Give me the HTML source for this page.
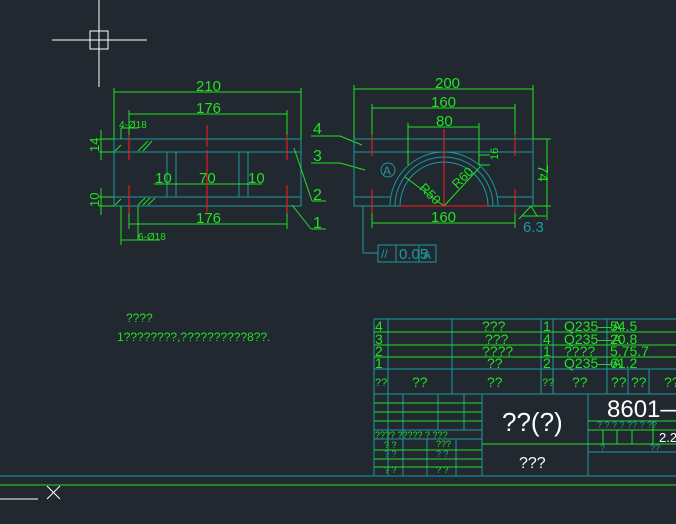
<!DOCTYPE html>
<html><head><meta charset="utf-8"><style>
html,body{margin:0;padding:0;background:#212830;}
svg{display:block}
text{font-family:"Liberation Sans",sans-serif;}
</style></head><body>
<svg width="676" height="524" viewBox="0 0 676 524" xmlns="http://www.w3.org/2000/svg">
<rect width="676" height="524" fill="#212830"/>
<g stroke="#fff" stroke-width="1" fill="none">
<line x1="52" y1="40" x2="147" y2="40"/><line x1="99" y1="0" x2="99" y2="87"/>
<rect x="90" y="31" width="18" height="18"/>
<line x1="0" y1="499" x2="38" y2="499"/>
<line x1="47" y1="486" x2="60" y2="499"/><line x1="60" y1="486" x2="47" y2="499"/>
</g>
<line x1="0" y1="476" x2="676" y2="476" stroke="#1a9ba0" stroke-width="1"/>
<line x1="0" y1="485" x2="676" y2="485" stroke="#22e022" stroke-width="1"/>

<g stroke="#1a9ba0" fill="none" stroke-width="1">
<rect x="114" y="139" width="187" height="67"/>
<line x1="114" y1="152" x2="301" y2="152"/>
<line x1="114" y1="197" x2="301" y2="197"/>
<line x1="167" y1="152" x2="167" y2="197"/><line x1="176" y1="152" x2="176" y2="197"/>
<line x1="239" y1="152" x2="239" y2="197"/><line x1="248" y1="152" x2="248" y2="197"/>
</g>
<g stroke="#22e022" fill="none" stroke-width="1">
<line x1="114" y1="92" x2="301" y2="92"/><line x1="114" y1="88" x2="114" y2="139"/><line x1="301" y1="88" x2="301" y2="139"/>
<line x1="129" y1="114" x2="287" y2="114"/><line x1="129" y1="110" x2="129" y2="139"/><line x1="287" y1="110" x2="287" y2="139"/>
<line x1="129" y1="224" x2="287" y2="224"/><line x1="129" y1="206" x2="129" y2="229"/><line x1="287" y1="206" x2="287" y2="229"/>
<line x1="154" y1="184" x2="262" y2="184"/>
<line x1="99" y1="139" x2="114" y2="139"/><line x1="99" y1="152" x2="114" y2="152"/><line x1="101" y1="130" x2="101" y2="160"/>
<line x1="99" y1="197" x2="114" y2="197"/><line x1="99" y1="206" x2="114" y2="206"/><line x1="101" y1="188" x2="101" y2="215"/>
<line x1="121" y1="128" x2="121" y2="139"/><line x1="121" y1="128" x2="138" y2="128"/>
<line x1="121" y1="206" x2="121" y2="245"/><line x1="138" y1="206" x2="138" y2="240"/><line x1="121" y1="240" x2="160" y2="240"/>
<line x1="115" y1="151" x2="121" y2="145"/><line x1="138" y1="151" x2="148" y2="141"/><line x1="143" y1="151" x2="152" y2="141"/>
<line x1="115" y1="205" x2="121" y2="199"/><line x1="138" y1="205" x2="145" y2="198"/><line x1="143" y1="205" x2="150" y2="198"/><line x1="148" y1="205" x2="155" y2="198"/>
<line x1="311" y1="136" x2="340" y2="136"/><line x1="340" y1="136" x2="362" y2="145"/>
<line x1="311" y1="163" x2="340" y2="163"/><line x1="340" y1="163" x2="365" y2="170"/>
<line x1="294" y1="148" x2="312" y2="201"/><line x1="312" y1="201" x2="326" y2="201"/>
<line x1="292" y1="205" x2="311" y2="229"/><line x1="311" y1="229" x2="326" y2="229"/>
</g>
<g stroke="#ff1a1a" stroke-width="1">
<line x1="129" y1="135" x2="129" y2="160"/><line x1="129" y1="185" x2="129" y2="213"/>
<line x1="287" y1="135" x2="287" y2="160"/><line x1="287" y1="185" x2="287" y2="213"/>
<line x1="207" y1="125" x2="207" y2="147"/><line x1="207" y1="150" x2="207" y2="212"/>
</g>
<g fill="#22e022" font-size="15">
<text x="196" y="91">210</text><text x="196" y="113">176</text><text x="196" y="223">176</text>
<text x="155" y="183">10</text><text x="199" y="183">70</text><text x="248" y="183">10</text>
<text x="313" y="134" font-size="16">4</text><text x="313" y="161" font-size="16">3</text>
<text x="313" y="200" font-size="16">2</text><text x="313" y="228" font-size="16">1</text>
<text x="119" y="128" font-size="10">4-Ø18</text><text x="138" y="240" font-size="10">6-Ø18</text>
<text x="99" y="152" font-size="13" transform="rotate(-90 99 152)">14</text>
<text x="99" y="207" font-size="13" transform="rotate(-90 99 207)">10</text>
</g>

<g stroke="#1a9ba0" fill="none" stroke-width="1">
<rect x="354" y="139" width="179" height="67"/>
<line x1="354" y1="152" x2="533" y2="152"/>
<line x1="354" y1="197" x2="390" y2="197"/><line x1="497" y1="197" x2="533" y2="197"/>
<path d="M390 206 A54 54 0 0 1 498 206"/>
<path d="M395 206 A49 49 0 0 1 493 206"/>
<path d="M400 206 A44 44 0 0 1 488 206"/>
<circle cx="388" cy="170" r="7"/>
<line x1="363" y1="206" x2="363" y2="253"/><line x1="363" y1="253" x2="378" y2="253"/>
<rect x="378" y="245" width="58" height="17"/><line x1="396" y1="245" x2="396" y2="262"/><line x1="419" y1="245" x2="419" y2="262"/>
</g>
<g stroke="#22e022" fill="none" stroke-width="1">
<line x1="354" y1="89" x2="533" y2="89"/><line x1="354" y1="85" x2="354" y2="139"/><line x1="533" y1="85" x2="533" y2="139"/>
<line x1="372" y1="108" x2="515" y2="108"/><line x1="372" y1="104" x2="372" y2="139"/><line x1="515" y1="104" x2="515" y2="139"/>
<line x1="408" y1="127" x2="479" y2="127"/><line x1="408" y1="123" x2="408" y2="165"/><line x1="479" y1="123" x2="479" y2="165"/>
<line x1="372" y1="223" x2="515" y2="223"/><line x1="372" y1="206" x2="372" y2="228"/><line x1="515" y1="206" x2="515" y2="228"/>
<line x1="533" y1="139" x2="551" y2="139"/><line x1="533" y1="206" x2="551" y2="206"/><line x1="547" y1="139" x2="547" y2="220"/>
<line x1="444" y1="206" x2="405" y2="177"/><line x1="444" y1="206" x2="480" y2="167"/>
<line x1="479" y1="155" x2="490" y2="155"/><line x1="479" y1="165" x2="490" y2="165"/>
<line x1="519" y1="219" x2="531" y2="206"/><line x1="531" y1="206" x2="537" y2="216"/><line x1="522" y1="216" x2="546" y2="216"/>
</g>
<g stroke="#ff1a1a" stroke-width="1">
<line x1="372" y1="135" x2="372" y2="156"/><line x1="372" y1="189" x2="372" y2="213"/>
<line x1="515" y1="135" x2="515" y2="156"/><line x1="515" y1="189" x2="515" y2="213"/>
<line x1="444" y1="129" x2="444" y2="206"/><line x1="400" y1="206" x2="488" y2="206"/>
</g>
<g fill="#22e022" font-size="15">
<text x="435" y="88">200</text><text x="431" y="107">160</text><text x="436" y="126">80</text><text x="431" y="222">160</text>
<text x="553" y="180" transform="rotate(90 553 165)">74</text>
<text x="423" y="192" font-size="13" transform="rotate(45 425 185)">R50</text>
<text x="451" y="186" font-size="13" transform="rotate(-45 458 180)">R60</text>
<text x="492" y="166" font-size="11" transform="rotate(-90 492 160)">16</text>
</g>
<g fill="#1a9ba0" font-size="15">
<text x="383" y="175" font-size="12">A</text><text x="523" y="232">6.3</text>
<text x="381" y="258" font-size="12">//</text><text x="399" y="259">0.05</text><text x="423" y="259" font-size="12">A</text>
</g>

<g fill="#22e022" font-size="12">
<text x="126" y="322">????</text>
<text x="117" y="341">1????????,??????????8??.</text>
</g>

<g stroke="#1a9ba0" fill="none" stroke-width="1">
<line x1="374" y1="319" x2="676" y2="319"/><line x1="374" y1="369" x2="676" y2="369"/><line x1="374" y1="394" x2="676" y2="394"/>
<line x1="374" y1="319" x2="374" y2="476"/><line x1="388" y1="319" x2="388" y2="476"/>
<line x1="452" y1="319" x2="452" y2="394"/><line x1="541" y1="319" x2="541" y2="394"/><line x1="553" y1="319" x2="553" y2="394"/>
<line x1="607" y1="319" x2="607" y2="394"/><line x1="628" y1="369" x2="628" y2="394"/><line x1="649" y1="369" x2="649" y2="394"/>
<line x1="403" y1="394" x2="403" y2="476"/><line x1="438" y1="394" x2="438" y2="430"/><line x1="464" y1="394" x2="464" y2="430"/>
<line x1="427" y1="439" x2="427" y2="476"/><line x1="456" y1="439" x2="456" y2="476"/>
<line x1="482" y1="394" x2="482" y2="476"/><line x1="588" y1="394" x2="588" y2="476"/>
<line x1="374" y1="430" x2="482" y2="430"/><line x1="374" y1="439" x2="482" y2="439"/>
<line x1="588" y1="452" x2="676" y2="452"/>
</g>
<g stroke="#22e022" fill="none" stroke-width="1">
<line x1="374" y1="332" x2="676" y2="332"/><line x1="374" y1="345" x2="676" y2="345"/><line x1="374" y1="357" x2="676" y2="357"/>
<line x1="374" y1="403" x2="482" y2="403"/><line x1="374" y1="412" x2="482" y2="412"/><line x1="374" y1="421" x2="482" y2="421"/>
<line x1="374" y1="450" x2="482" y2="450"/><line x1="374" y1="459" x2="482" y2="459"/><line x1="374" y1="467" x2="482" y2="467"/>
<line x1="482" y1="444" x2="588" y2="444"/>
<line x1="588" y1="421" x2="676" y2="421"/><line x1="588" y1="430" x2="676" y2="430"/><line x1="588" y1="444" x2="676" y2="444"/>
<line x1="603" y1="430" x2="603" y2="444"/><line x1="617" y1="430" x2="617" y2="444"/><line x1="632" y1="430" x2="632" y2="444"/><line x1="653" y1="421" x2="653" y2="444"/>
</g>
<g fill="#22e022" font-size="14">
<text x="375" y="331">4</text><text x="375" y="344">3</text><text x="375" y="356">2</text><text x="375" y="368">1</text>
<text x="482" y="331">???</text><text x="485" y="344">???</text><text x="482" y="356">????</text><text x="487" y="368">??</text>
<text x="543" y="331">1</text><text x="543" y="344">4</text><text x="543" y="356">1</text><text x="543" y="368">2</text>
<text x="564" y="331">Q235—A</text><text x="610" y="331">54.5</text>
<text x="564" y="344">Q235—A</text><text x="610" y="344">20.8</text>
<text x="564" y="356">????</text><text x="610" y="356">5.75.7</text>
<text x="564" y="368">Q235—A</text><text x="610" y="368">61.2</text>
<text x="375" y="386" font-size="11">??</text><text x="412" y="387">??</text><text x="487" y="387">??</text>
<text x="542" y="386" font-size="11">??</text><text x="572" y="387">??</text><text x="611" y="387">??</text><text x="631" y="387">??</text><text x="664" y="387">??</text>
<text x="375" y="438" font-size="9">???? ????? ? ???</text>
<text x="384" y="448" font-size="9">?  ?</text><text x="436" y="447" font-size="9">???</text>
<text x="384" y="473" font-size="9">?  ?</text><text x="436" y="473" font-size="9">? ?</text>
</g>
<g fill="#1a9ba0" font-size="9">
<text x="384" y="457">?  ?</text><text x="436" y="457">? ?</text>
<text x="597" y="428">?  ?  ?  ? ??  ? ??</text><text x="600" y="451">?</text><text x="650" y="451">??</text>
</g>
<g fill="#fff">
<text x="502" y="431" font-size="26">??(?)</text>
<text x="519" y="468" font-size="16">???</text>
<text x="607" y="417" font-size="24">8601—0</text>
<text x="659" y="442" font-size="13">2.2</text>
</g>
</svg>
</body></html>
